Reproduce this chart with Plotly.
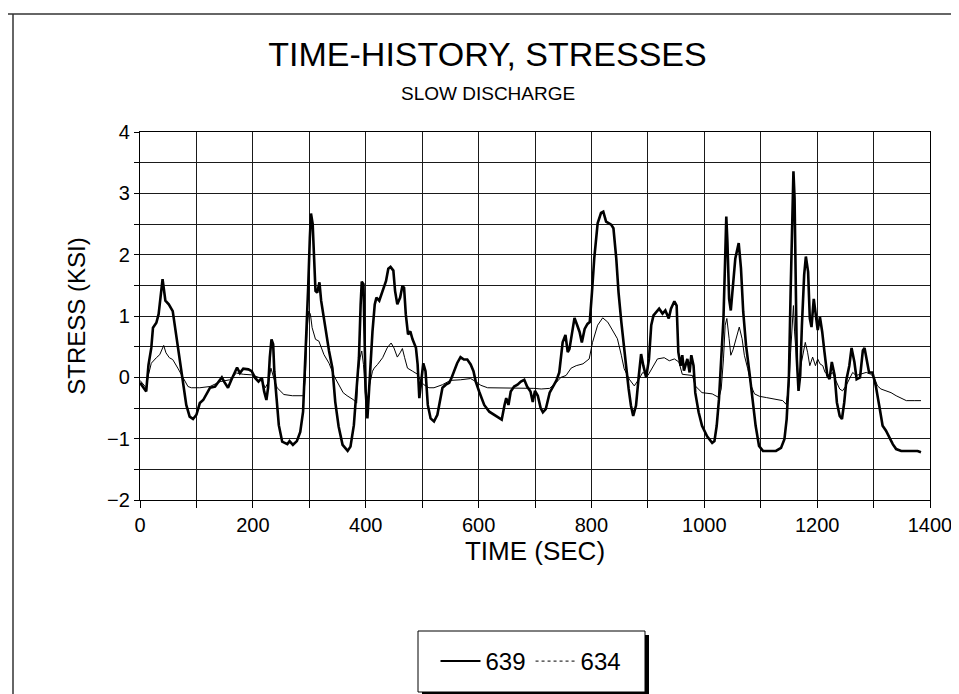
import plotly.graph_objects as go

# ---------------- data ----------------
time_639 = [0, 11, 15, 20, 23, 29, 33, 40, 45, 51, 58, 64, 70, 76, 82, 88, 94, 100, 106, 112,
            118, 124, 133, 139, 145, 149, 156, 162, 172, 177, 183, 192, 198, 204, 210, 216, 220,
            224, 227, 230, 233, 236, 238, 242, 246, 252, 261, 265, 271, 278, 284, 289, 292, 295,
            298, 301, 303, 306, 308, 311, 314, 318, 321, 329, 335, 341, 346, 352, 359, 368, 373,
            379, 384, 388, 391, 393, 396, 398, 400, 403, 405, 409, 412, 416, 419, 424, 430, 436,
            440, 444, 449, 452, 456, 461, 465, 468, 471, 475, 479, 483, 489, 492, 495, 499, 502,
            506, 510, 515, 521, 527, 532, 536, 542, 548, 552, 557, 562, 568, 574, 580, 586, 591,
            595, 601, 610, 619, 628, 637, 641, 646, 649, 653, 657, 663, 669, 675, 681, 686, 692,
            696, 700, 705, 710, 714, 719, 726, 732, 738, 743, 749, 754, 758, 761, 766, 770, 774,
            779, 783, 788, 793, 797, 801, 805, 811, 817, 821, 826, 835, 839, 844, 848, 853, 857,
            862, 866, 870, 874, 879, 884, 888, 892, 897, 902, 906, 910, 916, 920, 926, 931, 937,
            941, 947, 951, 954, 958, 961, 964, 970, 974, 977, 981, 984, 990, 996, 1005, 1014,
            1018, 1022, 1026, 1030, 1034, 1037, 1039, 1041, 1044, 1047, 1051, 1055, 1061, 1065,
            1069, 1074, 1080, 1085, 1091, 1097, 1104, 1116, 1127, 1136, 1142, 1146, 1150, 1153,
            1156, 1158, 1160, 1162, 1164, 1167, 1170, 1173, 1177, 1180, 1184, 1187, 1190, 1194,
            1198, 1201, 1205, 1209, 1213, 1218, 1222, 1226, 1231, 1235, 1240, 1244, 1248, 1252,
            1257, 1261, 1266, 1270, 1276, 1281, 1284, 1288, 1292, 1298, 1304, 1310, 1316, 1322,
            1328, 1334, 1340, 1349, 1364, 1378, 1384]
stress_639 = [-0.09, -0.23, 0.2, 0.48, 0.81, 0.89, 1.03, 1.6, 1.25, 1.19, 1.08, 0.7, 0.32, -0.12,
              -0.45, -0.64, -0.68, -0.61, -0.42, -0.37, -0.26, -0.17, -0.15, -0.07, 0.0, -0.07,
              -0.17, -0.04, 0.16, 0.07, 0.14, 0.13, 0.1, -0.01, -0.07, -0.01, -0.23, -0.37, -0.17,
              0.32, 0.62, 0.54, 0.1, -0.34, -0.78, -1.05, -1.09, -1.04, -1.1, -1.04, -0.89, -0.56,
              0.04, 0.7, 1.46, 2.28, 2.67, 2.5, 1.96, 1.41, 1.38, 1.55, 1.25, 0.75, 0.43, 0.15,
              -0.4, -0.8, -1.1, -1.2, -1.13, -0.78, -0.23, 0.32, 1.19, 1.56, 1.52, 0.54, -0.23,
              -0.67, -0.34, 0.1, 0.75, 1.19, 1.3, 1.25, 1.41, 1.57, 1.77, 1.8, 1.74, 1.41, 1.19,
              1.3, 1.49, 1.46, 1.03, 0.7, 0.75, 0.62, 0.48, 0.21, -0.34, 0.04, 0.23, 0.1, -0.45,
              -0.67, -0.72, -0.61, -0.34, -0.17, -0.12, -0.09, -0.01, 0.1, 0.23, 0.33, 0.29, 0.29,
              0.21, 0.1, -0.07, -0.23, -0.45, -0.56, -0.61, -0.67, -0.69, -0.45, -0.34, -0.45,
              -0.23, -0.15, -0.12, -0.07, -0.04, -0.15, -0.23, -0.4, -0.22, -0.3, -0.5, -0.57,
              -0.52, -0.25, -0.14, -0.05, 0.08, 0.57, 0.69, 0.41, 0.46, 0.74, 0.97, 0.87, 0.74,
              0.57, 0.79, 0.87, 0.9, 1.39, 1.94, 2.51, 2.68, 2.7, 2.54, 2.49, 2.43, 1.94, 1.39,
              0.9, 0.52, 0.14, -0.19, -0.46, -0.63, -0.46, 0.03, 0.38, 0.19, 0.0, 0.3, 0.85, 1.01,
              1.07, 1.12, 1.04, 1.09, 0.96, 1.12, 1.24, 1.17, 0.41, 0.19, 0.36, 0.11, 0.3, 0.08,
              0.36, 0.19, -0.25, -0.57, -0.79, -0.96, -1.07, -1.04, -0.79, -0.36, 0.3, 0.96, 1.94,
              2.62, 2.21, 1.28, 1.09, 1.5, 1.94, 2.19, 1.78, 1.07, 0.52, 0.08, -0.36, -0.79, -1.12,
              -1.2, -1.2, -1.2, -1.15, -1.01, -0.68, 0.03, 1.39, 2.76, 3.36, 2.92, 1.12, 0.3,
              -0.22, 0.03, 0.85, 1.67, 1.97, 1.72, 0.96, 0.82, 1.28, 1.01, 0.77, 0.98, 0.74, 0.41,
              0.03, -0.03, 0.25, 0.03, -0.41, -0.63, -0.68, -0.41, -0.03, 0.19, 0.48, 0.25, -0.03,
              0.0, 0.44, 0.48, 0.3, 0.08, 0.08, -0.14, -0.46, -0.79, -0.87, -0.98, -1.09, -1.17,
              -1.2, -1.2, -1.2, -1.22]

time_634 = [0, 11, 15, 20, 29, 35, 42, 46, 52, 58, 67, 76, 85, 91, 106, 124, 142, 159, 171, 183,
            198, 213, 222, 228, 232, 237, 243, 255, 270, 290, 293, 296, 299, 302, 305, 311, 317,
            326, 335, 344, 352, 360, 367, 379, 384, 386, 390, 393, 396, 400, 403, 407, 412, 415,
            421, 430, 438, 445, 450, 456, 461, 465, 469, 474, 483, 492, 498, 503, 512, 521, 536,
            550, 568, 586, 595, 604, 616, 640, 675, 698, 711, 726, 738, 746, 755, 764, 773, 785,
            796, 802, 811, 820, 829, 837, 846, 853, 858, 867, 876, 884, 891, 900, 908, 917, 929,
            938, 947, 955, 961, 979, 984, 996, 1014, 1026, 1030, 1034, 1037, 1040, 1044, 1047,
            1051, 1056, 1062, 1067, 1071, 1077, 1083, 1089, 1098, 1110, 1127, 1139, 1145, 1150,
            1153, 1156, 1158, 1160, 1163, 1166, 1170, 1175, 1179, 1183, 1187, 1192, 1197, 1201,
            1205, 1210, 1214, 1222, 1227, 1233, 1240, 1245, 1251, 1257, 1263, 1269, 1278, 1287,
            1295, 1301, 1307, 1313, 1322, 1331, 1340, 1349, 1358, 1372, 1384]
stress_634 = [-0.05, -0.17, 0.04, 0.23, 0.32, 0.37, 0.52, 0.4, 0.32, 0.29, 0.15, -0.01, -0.15,
              -0.17, -0.17, -0.15, -0.07, -0.04, 0.07, 0.05, 0.04, -0.01, -0.17, -0.07, 0.15,
              -0.01, -0.17, -0.28, -0.3, -0.3, -0.01, 0.75, 1.08, 1.03, 0.81, 0.62, 0.59, 0.37,
              0.23, 0.02, -0.12, -0.25, -0.3, -0.37, -0.42, 0.04, 0.32, 0.43, 0.21, -0.34, -0.45,
              -0.12, 0.1, 0.15, 0.21, 0.32, 0.48, 0.56, 0.48, 0.33, 0.4, 0.47, 0.32, 0.15, 0.1,
              0.05, -0.07, -0.12, -0.17, -0.17, -0.12, -0.05, -0.04, -0.02, -0.07, -0.13, -0.17,
              -0.17, -0.17, -0.18, -0.19, -0.18, -0.08, 0.0, 0.03, 0.15, 0.19, 0.22, 0.3, 0.57,
              0.85, 0.97, 0.9, 0.77, 0.63, 0.36, 0.14, -0.03, -0.14, -0.03, 0.08, 0.03, 0.16, 0.3,
              0.32, 0.27, 0.3, 0.25, 0.05, 0.03, -0.14, -0.25, -0.27, -0.33, -0.19, 0.3, 0.85,
              0.96, 0.63, 0.36, 0.45, 0.63, 0.82, 0.63, 0.36, 0.14, -0.14, -0.27, -0.31, -0.33,
              -0.36, -0.38, -0.44, -0.14, 0.41, 1.01, 1.17, 0.74, 0.41, -0.03, 0.14, 0.41, 0.57,
              0.41, 0.19, 0.33, 0.19, 0.3, 0.22, 0.19, 0.08, 0.03, 0.08, -0.05, -0.19, -0.22,
              -0.14, -0.03, 0.08, 0.03, 0.05, 0.08, 0.05, 0.0, -0.14, -0.19, -0.22, -0.25, -0.3,
              -0.34, -0.38, -0.38, -0.38]

series_names = ["639", "634"]
x_tick_vals = [0, 200, 400, 600, 800, 1000, 1200, 1400]
y_tick_vals = [-2, -1, 0, 1, 2, 3, 4]

# ---------------- figure ----------------
FONT = "Liberation Sans, Arial, sans-serif"
W, H = 959, 694
L, R, T, B = 132, 37, 124, 202
PW, PH = W - L - R, H - T - B


def px_x(p):
    return (p - L) / PW


def px_y(p):
    return (H - B - p) / PH


fig = go.Figure()
fig.add_trace(go.Scatter(x=time_639, y=stress_639, mode="lines", name=series_names[0],
                         line=dict(color="black", width=2.6), showlegend=False))
fig.add_trace(go.Scatter(x=time_634, y=stress_634, mode="lines", name=series_names[1],
                         line=dict(color="black", width=1), showlegend=False))
# legend samples
fig.add_trace(go.Scatter(x=[None], y=[None], mode="lines", name=series_names[0],
                         line=dict(color="black", width=2)))
fig.add_trace(go.Scatter(x=[None], y=[None], mode="lines", name=series_names[1],
                         line=dict(color="black", width=1, dash="dot")))

grid = dict(showgrid=True, gridcolor="#1a1a1a", gridwidth=1.3)

fig.update_xaxes(range=[0, 1400], tickvals=x_tick_vals, ticks="outside", ticklen=7,
                 tickcolor="black", showline=True, linecolor="black", linewidth=1.3,
                 mirror=True, zeroline=False,
                 minor=dict(dtick=100, tick0=0, ticks="outside", ticklen=7, tickcolor="black",
                            showgrid=True, gridcolor="#1a1a1a", gridwidth=1.3),
                 tickfont=dict(family=FONT, size=20, color="black"),
                 title=dict(text="TIME (SEC)", font=dict(family=FONT, size=26, color="black"),
                            standoff=5),
                 **grid)
fig.update_yaxes(range=[-2, 4], tickvals=y_tick_vals, ticks="outside", ticklen=5,
                 tickcolor="black", showline=True, linecolor="black", linewidth=1.3,
                 mirror=True, zeroline=False,
                 minor=dict(dtick=0.5, tick0=0, ticks="outside", ticklen=5, tickcolor="black",
                            showgrid=True, gridcolor="#1a1a1a", gridwidth=1.3),
                 tickfont=dict(family=FONT, size=20, color="black"),
                 title=dict(text="STRESS (KSI)", font=dict(family=FONT, size=24, color="black"),
                            standoff=14),
                 **grid)

shapes = [
    # outer frame (top and left edges)
    dict(type="line", xref="paper", yref="paper", x0=px_x(0), x1=px_x(W), y0=px_y(6), y1=px_y(6),
         line=dict(color="#333", width=1.5)),
    dict(type="line", xref="paper", yref="paper", x0=px_x(5), x1=px_x(5), y0=px_y(6), y1=px_y(H),
         line=dict(color="#333", width=1.5)),
    # legend shadow and box
    dict(type="rect", xref="paper", yref="paper", x0=px_x(414), x1=px_x(641), y0=px_y(688),
         y1=px_y(627), fillcolor="black", line=dict(width=0)),
    dict(type="rect", xref="paper", yref="paper", x0=px_x(410), x1=px_x(637), y0=px_y(684),
         y1=px_y(623), fillcolor="white", line=dict(color="black", width=1)),
]

fig.update_layout(
    width=W, height=H,
    margin=dict(l=L, r=R, t=T, b=B),
    paper_bgcolor="white", plot_bgcolor="white",
    font=dict(family=FONT, color="black"),
    title=dict(text="TIME-HISTORY, STRESSES", x=0.5, xref="container", xanchor="center",
               y=1 - 34 / H, yref="container", yanchor="top",
               font=dict(family=FONT, size=34, color="black")),
    annotations=[dict(text="SLOW DISCHARGE", xref="paper", yref="paper",
                      x=px_x(W / 2), y=px_y(85), xanchor="center", yanchor="middle",
                      showarrow=False, font=dict(family=FONT, size=19, color="black"))],
    shapes=shapes,
    showlegend=True,
    legend=dict(orientation="h", x=px_x(523), xanchor="center", y=px_y(653.5),
                yanchor="middle", bgcolor="rgba(0,0,0,0)", borderwidth=0,
                font=dict(family=FONT, size=24, color="black"), itemwidth=40),
)

fig.write_html("out.html")
